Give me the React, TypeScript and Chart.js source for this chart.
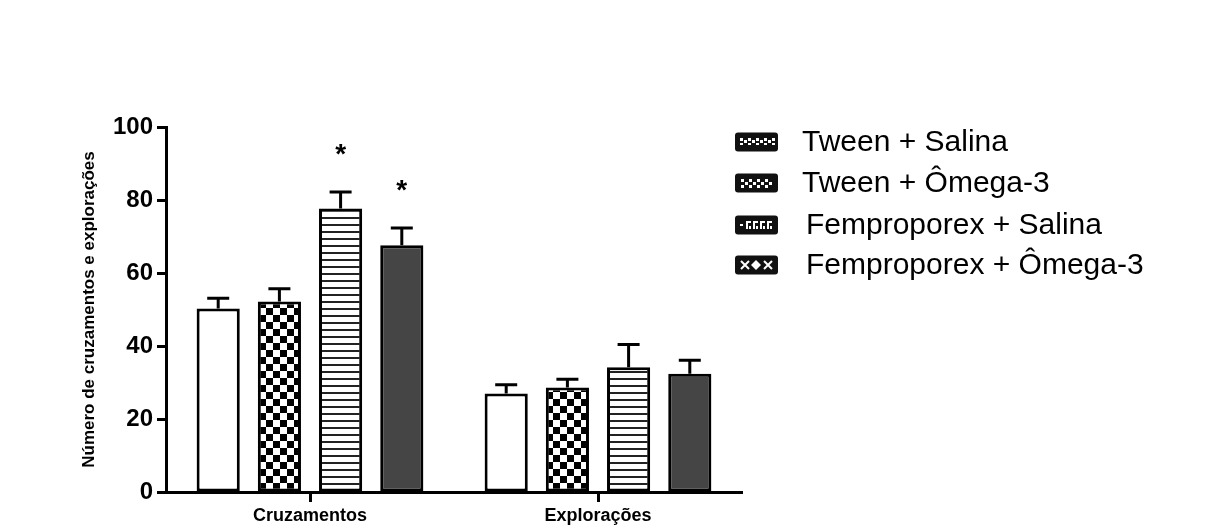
import React, { useEffect, useRef } from 'react';
import { Chart, registerables } from 'chart.js';

Chart.register(...registerables);

const categories = ['Cruzamentos', 'Explorações'];
const seriesNames = ['Tween + Salina', 'Tween + Ômega-3', 'Femproporex + Salina', 'Femproporex + Ômega-3'];
const tweenSalina = [50.3, 27.0];
const tweenOmega = [52.2, 28.6];
const fempSalina = [77.7, 34.2];
const fempOmega = [67.6, 32.4];
const errTweenSalina = [2.8, 2.4];
const errTweenOmega = [3.5, 2.3];
const errFempSalina = [4.5, 6.2];
const errFempOmega = [4.7, 3.7];
const sigTweenSalina = ['', ''];
const sigTweenOmega = ['', ''];
const sigFempSalina = ['*', ''];
const sigFempOmega = ['*', ''];
const yTicks = [0, 20, 40, 60, 80, 100];
const yTitle = 'Número de cruzamentos e explorações';

const FONT = "'Liberation Sans', Arial, sans-serif";

function makeCanvas(w: number, h: number) {
  const c = document.createElement('canvas');
  c.width = w;
  c.height = h;
  return c;
}

function checkerPattern(ctx: CanvasRenderingContext2D) {
  const c = makeCanvas(14, 14);
  const g = c.getContext('2d')!;
  g.fillStyle = '#fff';
  g.fillRect(0, 0, 14, 14);
  g.fillStyle = '#000';
  g.fillRect(0, 0, 7, 7);
  g.fillRect(7, 7, 7, 7);
  return ctx.createPattern(c, 'repeat')!;
}

function stripePattern(ctx: CanvasRenderingContext2D) {
  const c = makeCanvas(8, 7);
  const g = c.getContext('2d')!;
  g.fillStyle = '#fff';
  g.fillRect(0, 0, 8, 7);
  g.fillStyle = '#222';
  g.fillRect(0, 0, 8, 2);
  return ctx.createPattern(c, 'repeat')!;
}

export default function App() {
  const ref = useRef<HTMLCanvasElement | null>(null);

  useEffect(() => {
    const canvas = ref.current!;
    const ctx = canvas.getContext('2d')!;
    const values = [tweenSalina, tweenOmega, fempSalina, fempOmega];
    const errors = [errTweenSalina, errTweenOmega, errFempSalina, errFempOmega];
    const sigs = [sigTweenSalina, sigTweenOmega, sigFempSalina, sigFempOmega];
    const fills: any[] = ['#ffffff', checkerPattern(ctx), stripePattern(ctx), '#454545'];

    const errorPlugin = {
      id: 'errorBars',
      afterDatasetsDraw(chart: any) {
        const c = chart.ctx;
        const y = chart.scales.y;
        c.save();
        c.strokeStyle = '#000';
        c.lineWidth = 3;
        c.fillStyle = '#000';
        c.font = `bold 28px ${FONT}`;
        c.textAlign = 'center';
        c.textBaseline = 'middle';
        values.forEach((vals, i) => {
          const meta = chart.getDatasetMeta(i);
          meta.data.forEach((el: any, j: number) => {
            const top = y.getPixelForValue(vals[j] + errors[i][j]);
            c.beginPath();
            c.moveTo(el.x, el.y);
            c.lineTo(el.x, top);
            c.moveTo(el.x - 11, top);
            c.lineTo(el.x + 11, top);
            c.stroke();
            if (sigs[i][j]) {
              c.fillText(sigs[i][j], el.x, top - 37);
            }
          });
        });
        c.restore();
      },
    };

    const legendPlugin = {
      id: 'customLegend',
      afterDraw(chart: any) {
        const c = chart.ctx;
        c.save();
        const iconX = 735;
        const rows = [142, 183, 225, 265];
        rows.forEach((cy, i) => {
          c.fillStyle = '#111';
          c.beginPath();
          const w = 43, h = 19;
          const x0 = iconX, y0 = cy - h / 2, r = 3;
          c.moveTo(x0 + r, y0);
          c.lineTo(x0 + w - r, y0);
          c.quadraticCurveTo(x0 + w, y0, x0 + w, y0 + r);
          c.lineTo(x0 + w, y0 + h - r);
          c.quadraticCurveTo(x0 + w, y0 + h, x0 + w - r, y0 + h);
          c.lineTo(x0 + r, y0 + h);
          c.quadraticCurveTo(x0, y0 + h, x0, y0 + h - r);
          c.lineTo(x0, y0 + r);
          c.quadraticCurveTo(x0, y0, x0 + r, y0);
          c.fill();
          c.fillStyle = '#fff';
          if (i === 0) {
            for (let k = 0; k < 9; k++) {
              c.fillRect(x0 + 5 + k * 4, cy - 4 + (k % 2) * 2, 3, 3);
              c.fillRect(x0 + 5 + k * 4, cy + 1 - (k % 2) * 2, 3, 2);
            }
          } else if (i === 1) {
            for (let k = 0; k < 8; k++) {
              for (let m = 0; m < 3; m++) {
                if ((k + m) % 2 === 0) c.fillRect(x0 + 6 + k * 4, cy - 4 + m * 3, 3, 3);
              }
            }
          } else if (i === 2) {
            c.fillRect(x0 + 5, cy - 1, 3, 2);
            for (let k = 0; k < 4; k++) {
              c.fillRect(x0 + 11 + k * 7, cy - 4, 5, 2);
              c.fillRect(x0 + 11 + k * 7, cy - 4, 2, 8);
              c.fillRect(x0 + 14 + k * 7, cy + 1, 2, 3);
            }
          } else {
            const xs = [x0 + 10, x0 + 21, x0 + 33];
            xs.forEach((xx, k) => {
              c.beginPath();
              if (k === 1) {
                c.moveTo(xx, cy - 5);
                c.lineTo(xx + 5, cy);
                c.lineTo(xx, cy + 5);
                c.lineTo(xx - 5, cy);
                c.closePath();
                c.fill();
              } else {
                c.strokeStyle = '#fff';
                c.lineWidth = 2;
                c.moveTo(xx - 4, cy - 4);
                c.lineTo(xx + 4, cy + 4);
                c.moveTo(xx + 4, cy - 4);
                c.lineTo(xx - 4, cy + 4);
                c.stroke();
              }
            });
          }
          c.fillStyle = '#000';
          c.font = `30px ${FONT}`;
          c.textAlign = 'left';
          c.textBaseline = 'middle';
          c.fillText(seriesNames[i], i < 2 ? 802 : 806, cy + 1);
        });
        c.restore();
      },
    };

    const chart = new Chart(canvas, {
      type: 'bar',
      data: {
        labels: categories,
        datasets: seriesNames.map((name, i) => ({
          label: name,
          data: values[i],
          backgroundColor: fills[i],
          borderColor: '#000',
          borderWidth: 3,
          borderSkipped: false,
          categoryPercentage: 0.85,
          barPercentage: 0.705,
        })),
      },
      options: {
        responsive: false,
        animation: false,
        layout: { padding: { left: 75, right: 475, top: 127, bottom: 0 } },
        plugins: {
          legend: { display: false },
          tooltip: { enabled: false },
        },
        scales: {
          x: {
            type: 'category',
            grid: {
              offset: false,
              drawOnChartArea: false,
              drawTicks: true,
              tickLength: 10,
              tickWidth: 3,
              tickColor: '#000',
            },
            border: { display: true, color: '#000', width: 3 },
            ticks: {
              color: '#000',
              font: { family: FONT, size: 18, weight: 'bold' },
              padding: 3,
            },
            afterFit(scale: any) {
              scale.height = 36;
            },
          },
          y: {
            min: 0,
            max: 100,
            afterBuildTicks(scale: any) {
              scale.ticks = yTicks.map((v) => ({ value: v }));
            },
            grid: {
              drawOnChartArea: false,
              drawTicks: true,
              tickLength: 9,
              tickWidth: 3,
              tickColor: '#000',
            },
            border: { display: true, color: '#000', width: 3 },
            ticks: {
              color: '#000',
              font: { family: FONT, size: 24, weight: 'bold' },
              padding: 4,
            },
            title: {
              display: true,
              text: yTitle,
              color: '#000',
              font: { family: FONT, size: 17, weight: 'bold' },
              padding: { top: 4, bottom: 0 },
            },
            afterFit(scale: any) {
              scale.width = 91;
            },
          },
        },
      },
      plugins: [errorPlugin, legendPlugin],
    } as any);

    return () => chart.destroy();
  }, []);

  return (
    <div style={{ position: 'absolute', left: 0, top: 0, width: 1217, height: 528, background: '#fff' }}>
      <canvas ref={ref} width={1217} height={528} style={{ display: 'block' }} />
    </div>
  );
}
